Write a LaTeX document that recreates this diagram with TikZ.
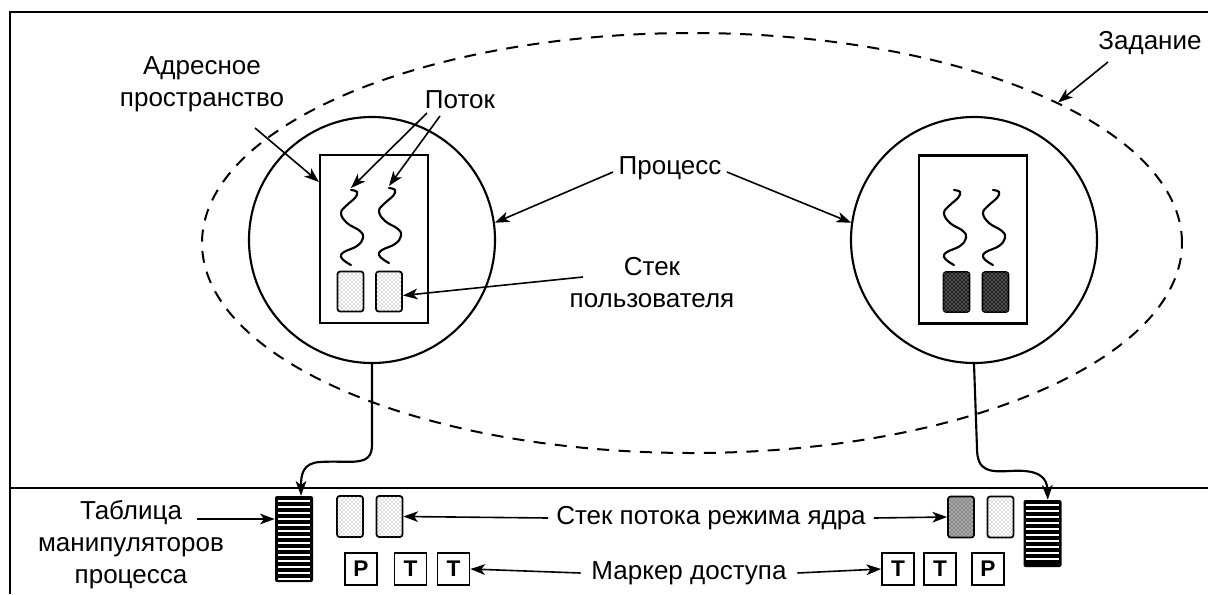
\documentclass[tikz,border=0pt]{standalone}
\usepackage{fontspec}
\setmainfont{Liberation Sans}
\usetikzlibrary{arrows.meta,patterns,shapes.geometric}
\begin{document}
\begin{tikzpicture}[x=0.75pt,y=-0.75pt,
  lbl/.style={font=\fontsize{19.5}{24}\selectfont, inner sep=0pt, align=center},
  arr/.style={line width=1.2pt, -{Stealth[length=11pt,width=8pt,inset=3pt]}},
  frame/.style={line width=1.6pt},
  proc/.style={draw, circle, line width=1.6pt, minimum size=184.5pt, inner sep=0pt},
  job/.style={draw, ellipse, line width=1.5pt, dash pattern=on 9pt off 7pt, minimum width=735pt, minimum height=315pt, inner sep=0pt},
  aspace/.style={draw, line width=1.6pt, minimum width=81pt, minimum height=126pt, inner sep=0pt},
  stk/.style={draw, line width=1.3pt, rounded corners=2pt, minimum width=19.5pt, minimum height=30pt, inner sep=0pt},
  lightstk/.style={stk, fill=white, postaction={pattern=crosshatch dots, pattern color=black!55}},
  midstk/.style={stk, fill=black!35, postaction={pattern=crosshatch dots, pattern color=black!80}},
  darkstk/.style={stk, fill=black!85, postaction={pattern=crosshatch dots, pattern color=white!80!black}},
  tok/.style={draw, line width=1.3pt, minimum size=24pt, inner sep=0pt, font=\fontsize{17}{17}\selectfont\bfseries},
  htable/.style={fill=black, rounded corners=1.5pt, inner sep=0pt, minimum width=28.5pt},
  thr/.style={line width=1.6pt, line cap=round}
]
\useasboundingbox (0,0) rectangle (1208,594);

% frame
\draw[frame] (10,594) -- (10,12) -- (1208,12);
\draw[frame] (10,488) -- (1208,488);

% job
\node[job] (jb) at (692,243) {};

% processes
\node[proc] (p1) at (372,240) {};
\node[proc] (p2) at (974,240) {};

% address spaces
\node[aspace] (as1) at (374,239) {};
\node[aspace] (as2) at (973,239.5) {};

% user stacks
\node[lightstk] (us11) at (350.5,291.5) {};
\node[lightstk] (us12) at (389,291.5) {};
\node[darkstk] (us21) at (956.5,292) {};
\node[darkstk] (us22) at (995.5,292) {};

% threads
\foreach \cx/\ty/\nm in {352/190/t1, 390/188/t2, 955/190/t3, 994/190/t4}{
  \coordinate (\nm) at (\cx-1,\ty-2);
  \draw[thr] plot[smooth, tension=0.7] coordinates {
    (\cx-1,\ty) (\cx+5,\ty+2) (\cx+3,\ty+8) (\cx-5,\ty+15) (\cx-11,\ty+23)
    (\cx-5,\ty+33) (\cx+8,\ty+41) (\cx+11,\ty+48) (\cx+5,\ty+56)
    (\cx-8,\ty+62) (\cx-11,\ty+67) (\cx-6,\ty+72) (\cx-1,\ty+75)};
}

% kernel part
\node[htable, minimum height=64.5pt] (ht1) at (294,539) {};
\foreach \yy in {501,507,...,579} \draw[white, line width=1.1pt] (278,\yy) -- (310,\yy);
\node[htable, minimum height=50.25pt] (ht2) at (1042.5,533.5) {};
\foreach \yy in {505,511,...,559} \draw[white, line width=1.1pt] (1026,\yy) -- (1059,\yy);

\node[lightstk, minimum height=30.75pt] (ks11) at (350,516.5) {};
\node[lightstk, minimum height=30.75pt] (ks12) at (389.5,516.5) {};
\node[midstk, minimum height=30.75pt] (ks21) at (961,517) {};
\node[lightstk, minimum height=30.75pt] (ks22) at (1000.5,517) {};

\node[tok] (pk1) at (361,569) {P};
\node[tok] (tk11) at (410.5,569) {T};
\node[tok] (tk12) at (453.5,569) {T};
\node[tok] (tk21) at (898,569) {T};
\node[tok] (tk22) at (940,569) {T};
\node[tok] (pk2) at (988,569) {P};

% labels
\node[lbl] (addr) at (202,84) {Адресное\\пространство};
\node[lbl] (potok) at (460,100) {Поток};
\node[lbl] (procl) at (670,168) {Процесс};
\node[lbl] (ustl) at (652,283) {Стек\\пользователя};
\node[lbl] (zad) at (1150,43) {Задание};
\node[lbl] (tbl) at (131,545) {Таблица\\манипуляторов\\процесса};
\node[lbl] (kstl) at (711,518) {Стек потока режима ядра};
\node[lbl] (mrk) at (689,573) {Маркер доступа};

% arrows
\coordinate (aT) at (255,128);
\draw[arr] (aT) -- ([yshift=-21pt]as1.north west);
\coordinate (pT1) at (427,113);
\coordinate (pT2) at (440,116);
\draw[arr] (pT1) -- (t1);
\draw[arr] (pT2) -- (t2);
\draw[arr] ([xshift=-4pt,yshift=-3pt]procl.west) -- (p1.8);
\draw[arr] ([xshift=4pt,yshift=-3pt]procl.east) -- (p2.172);
\coordinate (uT) at (583,277);
\draw[arr] (uT) -- ([yshift=-3pt]us12.east);
\coordinate (zT) at (1108,62);
\draw[arr] (zT) -- (jb.21);
\coordinate (tT) at (197,519);
\draw[arr] (tT) -- (ht1.west |- tT);
\draw[arr] ([xshift=-6pt]kstl.west) -- (ks12.east);
\draw[arr] ([xshift=6pt]kstl.east) -- (ks21.west);
\draw[arr] ([xshift=-8pt]mrk.west) -- (tk12.east);
\draw[arr] ([xshift=8pt]mrk.east) -- (tk21.west);

% process -> handle table
\draw[arr, line width=1.6pt] (p1.south) -- (372,445) .. controls (372,468) and (350,460) .. (320,462) .. controls (303,463) and (301,474) .. ([xshift=5.25pt]ht1.north);
\draw[arr, line width=1.6pt] (p2.south) -- (977,448) .. controls (977,472) and (990,472) .. (1010,471) .. controls (1040,469) and (1047,478) .. ([xshift=4pt]ht2.north);
\end{tikzpicture}
\end{document}
